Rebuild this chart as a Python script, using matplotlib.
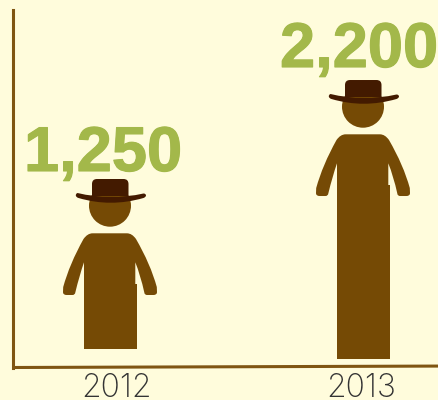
import matplotlib
matplotlib.use("Agg")
import matplotlib.pyplot as plt
import matplotlib.patheffects as pe
from matplotlib.patches import PathPatch
from matplotlib.path import Path
from matplotlib.transforms import Affine2D

years = ["2012", "2013"]
year_ticks = [0.024, 0.99]
values = [1250, 2200]
bar_bottoms = [626, 530]
value_labels = ["1,250", "2,200"]
label_offsets = [(-86.5, 113), (-83.5, 118)]

BACKGROUND = "#FFFCDC"
BROWN = "#754A05"
HAT = "#431A00"
AXIS = "#7F5512"
GREEN = "#A3B84A"

W, H = 438, 400
X_PER_PX = 1 / 253
Y_PER_PX = 1 / 0.1042

M, L, C, Z = Path.MOVETO, Path.LINETO, Path.CURVE3, Path.CLOSEPOLY

# figure parts in pixel offsets from the top centre of a bar, y pointing down
TORSO = Path(
    [(-18, -50.7),
     (-23, -50.7), (-27, -45),
     (-41, -20), (-47.3, 3),
     (-47.5, 8),
     (-47.5, 11), (-44, 11),
     (-38, 11),
     (-35.5, 11), (-35.2, 8.5),
     (-31, -9), (-26.5, -21.7),
     (-26.5, 2), (24.8, 2), (24.8, -21.7),
     (30, -9), (33.8, 8.5),
     (34, 11), (36.5, 11),
     (43, 11),
     (46.5, 11), (46.5, 8),
     (46.3, 3),
     (40, -20), (25.5, -45),
     (21.5, -50.7), (16.5, -50.7),
     (-18, -50.7)],
    [M, C, C, C, C, L, C, C, L, C, C, C, C, L, L, L, C, C, C, C, L, C, C, L, C, C, C, C, Z],
)
CROWN = Path(
    [(-18.5, -88), (-18.5, -100),
     (-18.5, -105), (-13.5, -105),
     (13, -105),
     (18, -105), (18, -100),
     (18, -88), (-18.5, -88)],
    [M, L, C, C, L, C, C, L, Z],
)
BRIM = Path(
    [(-33, -91),
     (-35.5, -90), (-34.5, -88),
     (-34, -86.5), (-32, -86),
     (0, -76.5), (33, -86),
     (35.5, -87), (35.5, -88.5),
     (35.5, -90.5), (33, -90.5),
     (0, -83), (-33, -91),
     (-33, -91)],
    [M, C, C, C, C, C, C, C, C, C, C, C, C, Z],
)


def draw_person(ax, x, top):
    place = Affine2D().scale(X_PER_PX, -Y_PER_PX).translate(x, top) + ax.transData
    head = Path.circle((-0.5, -78.3), 21)
    for path, color in [(head, BROWN), (TORSO, BROWN), (CROWN, HAT), (BRIM, HAT)]:
        ax.add_patch(PathPatch(path, facecolor=color, edgecolor="none", transform=place, clip_on=False))


fig = plt.figure(figsize=(W / 100, H / 100), dpi=100, facecolor=BACKGROUND)
ax = fig.add_axes([13 / W, 1 - 367.5 / H, 425 / W, 357.5 / H], facecolor=BACKGROUND)

positions = list(range(len(years)))
heights = [v - b for v, b in zip(values, bar_bottoms)]
ax.bar(positions, heights, bottom=bar_bottoms, width=53 * X_PER_PX, color=BROWN)
ax.set_xlim(-97.5 * X_PER_PX, 1 + 74.5 * X_PER_PX)
ax.set_ylim(1250 - (367.5 - 284) * Y_PER_PX, 1250 + (284 - 10) * Y_PER_PX)

for pos, value, label, offset in zip(positions, values, value_labels, label_offsets):
    draw_person(ax, pos, value)
    ax.annotate(label, xy=(pos, value), xytext=offset, textcoords="offset pixels",
                ha="left", va="baseline", fontsize=45.5, fontweight="bold",
                family="Liberation Sans", color=GREEN, annotation_clip=False,
                path_effects=[pe.withStroke(linewidth=0.8, foreground=GREEN)])

for side in ["top", "right", "bottom"]:
    ax.spines[side].set_visible(False)
ax.spines["left"].set_color(AXIS)
ax.spines["left"].set_linewidth(2.2)
# the baseline climbs very slightly to the right
ax.plot([0, 1], [0, 0.004], transform=ax.transAxes, color=AXIS, lw=2.2,
        clip_on=False, solid_capstyle="butt")

ax.set_xticks(year_ticks, years)
ax.set_yticks([])
ax.tick_params(axis="x", length=0, pad=4, labelsize=23, labelcolor="#333333")
for tick in ax.get_xticklabels():
    tick.set_family("Inter")
    tick.set_fontweight("light")

fig.savefig("out.png", dpi=100, facecolor=BACKGROUND)
